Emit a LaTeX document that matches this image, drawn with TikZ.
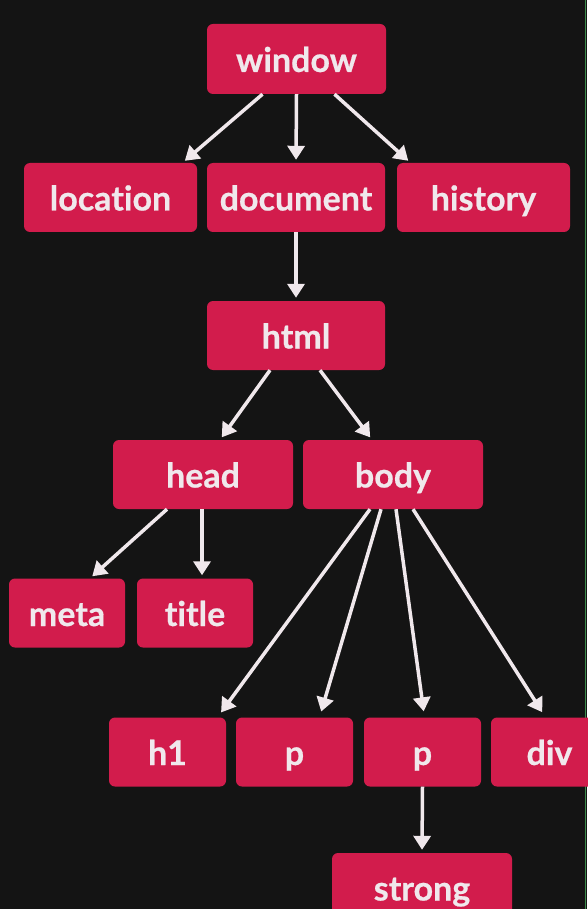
\documentclass[tikz,border=0pt]{standalone}
\usepackage{fontspec}
\setmainfont[Ligatures=NoCommon, BoldFeatures={FakeBold=0.6}]{Lato}
\usetikzlibrary{arrows.meta,calc}
\definecolor{bg}{HTML}{141414}
\definecolor{boxred}{HTML}{D21C4C}
\definecolor{txt}{HTML}{F0E8EC}
\definecolor{edgegreen}{HTML}{3C8C4C}
\begin{document}
\begin{tikzpicture}[x=1pt,y=-1pt,
  tag/.style={rectangle, rounded corners=6pt, fill=boxred, text=txt,
    minimum height=69pt, inner sep=0pt, text height=26pt, text depth=0pt,
    font=\bfseries\fontsize{34}{34}\selectfont},
  wide/.style={tag, minimum width=178pt},
  narrow/.style={tag, minimum width=117pt},
  arr/.style={draw=txt, line width=3.5pt,
    -{Triangle[length=14pt,width=17pt]}, shorten >=3pt}]
\fill[bg] (0,0) rectangle (587,909);
\useasboundingbox (0,0) rectangle (587,909);
\draw[edgegreen, line width=1pt] (585,0) -- (585,909);

\node[wide, minimum width=179pt, minimum height=70pt] (window) at (296.5,59) {window};
\node[wide, minimum width=173pt] (location) at (110.5,197.5) {location};
\node[wide] (document) at (296,197.5) {document};
\node[wide, minimum width=173pt] (history) at (483.5,197.5) {history};
\node[wide] (html) at (296,335.5) {html};
\node[wide, minimum width=180pt] (head) at (203,474.5) {head};
\node[wide, minimum width=180pt] (body) at (393,474.5) {body};
\node[narrow, minimum width=116pt] (meta) at (67,613) {meta};
\node[narrow, minimum width=116pt] (title) at (195,613) {title};
\node[narrow] (h1) at (167.5,752) {h1};
\node[narrow] (p1) at (294.5,752) {p};
\node[narrow] (p2) at (422.5,752) {p};
\node[narrow] (div) at (549.5,752) {div};
\node[wide, minimum width=180pt] (strong) at (422,887.5) {strong};

\draw[arr] ([xshift=-34pt]window.south) -- ([xshift=72pt]location.north);
\draw[arr] (window.south) -- (document.north);
\draw[arr] ([xshift=38pt]window.south) -- ([xshift=-73pt]history.north);
\draw[arr] (document.south) -- (html.north);
\draw[arr] ([xshift=-26pt]html.south) -- ([xshift=17pt]head.north);
\draw[arr] ([xshift=24pt]html.south) -- ([xshift=-21pt]body.north);
\draw[arr] ([xshift=-36pt]head.south) -- ([xshift=23pt]meta.north);
\draw[arr] ([xshift=-1pt]head.south) -- ([xshift=7pt]title.north);
\draw[arr, shorten >=6pt] ([xshift=-23pt]body.south) -- ([xshift=50pt]h1.north);
\draw[arr, shorten >=6pt] ([xshift=-12pt]body.south) -- ([xshift=25pt]p1.north);
\draw[arr, shorten >=6pt] ([xshift=3pt]body.south) -- ([xshift=2pt]p2.north);
\draw[arr, shorten >=6pt] ([xshift=20pt]body.south) -- ([xshift=-4pt]div.north);
\draw[arr] (p2.south) -- (strong.north);
\end{tikzpicture}
\end{document}
